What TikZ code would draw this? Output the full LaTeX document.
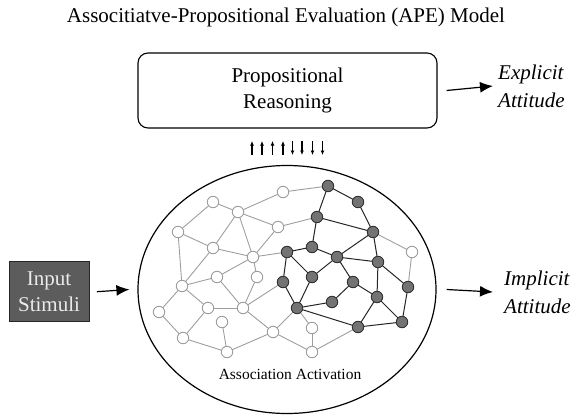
\documentclass[tikz,border=0pt]{standalone}
\usepackage{fontspec}
\setmainfont{Liberation Serif}
\usetikzlibrary{arrows.meta,shapes.geometric}
\begin{document}
\begin{tikzpicture}[x=1pt,y=-1pt,
 wn/.style={circle,draw=black!38,fill=white,line width=0.9pt,minimum size=11.5pt,inner sep=0pt},
 gn/.style={circle,draw=black!80,fill=black!55,line width=0.9pt,minimum size=11.5pt,inner sep=0pt},
 we/.style={draw=black!38,line width=0.9pt},
 ge/.style={draw=black!85,line width=1pt},
 bigarrow/.style={-{Latex[length=13pt,width=11pt]},line width=1.2pt},
 smallarrow/.style={-{Latex[length=4.5pt,width=4pt]},line width=1.1pt},
 txt/.style={font=\fontsize{21}{26}\selectfont,align=center,inner sep=0pt},
 itxt/.style={font=\fontsize{21}{28}\selectfont\itshape,align=left,inner sep=0pt,anchor=west}]
\useasboundingbox (0,0) rectangle (573,415);

% title
\node[txt] (title) at (286,17) {Associtiatve-Propositional Evaluation (APE) Model};

% propositional box
\node[txt,draw,rounded corners=10pt,line width=1.1pt,minimum width=299pt,minimum height=75pt] (prop) at (287.5,90.5) {Propositional\\Reasoning};
\node[itxt] (expl) at (498,86) {Explicit\\Attitude};
\draw[bigarrow] ([xshift=9pt]prop.east) -- ([xshift=-5pt]expl.west);

% small arrows
\foreach \x in {252,262,272.5,283}{\draw[smallarrow] (\x,155) -- (\x,141);}
\foreach \x in {292.5,302,312.5,322.5}{\draw[smallarrow] (\x,141) -- (\x,155);}

% ellipse
\node[draw,ellipse,minimum width=298pt,minimum height=248pt,line width=1.2pt,inner sep=0pt] (ell) at (287,289.5) {};
\node[font=\fontsize{15.5}{18}\selectfont,inner sep=0pt] (assoc) at (290,374) {Association Activation};

% input
\node[txt,draw=black!85,fill=black!64,text=white!92!black,line width=0.9pt,minimum width=80pt,minimum height=60pt] (inp) at (49,291.7) {Input\\Stimuli};
\draw[bigarrow] ([xshift=7.5pt]inp.east) -- ([xshift=-8pt]ell.west);

\node[itxt] (impl) at (504,292) {Implicit\\Attitude};
\draw[bigarrow] ([xshift=10pt]ell.east) -- ([xshift=-11pt]impl.west);

% network nodes
\foreach \n/\p in {W1/{283,192},W2/{213,202},W3/{238,212},W4/{178,232},W5/{278,227},W6/{213,248},W7/{253,257},W8/{217,277},W9/{257,277},W10/{182,286},W11/{159,312},W12/{208,308},W13/{243,308},W14/{222,322},W15/{183,338},W16/{273,332},W17/{227,352},W18/{412,252},W19/{312,328},W20/{312,352}}
  {\coordinate (\n) at (\p);}
\foreach \n/\p in {G1/{287,252},G2/{283,282},G3/{297,308},G4/{328,186},G5/{358,202},G6/{317,217},G7/{373,232},G8/{312,247},G9/{337,257},G10/{378,262},G11/{312,277},G12/{353,282},G13/{408,287},G14/{377,297},G15/{332,302},G16/{402,322},G17/{358,327}}
  {\coordinate (\n) at (\p);}

% gray edges
\foreach \a/\b in {W1/W3,W2/W3,W2/W4,W3/W5,W3/W6,W3/W7,W4/W6,W4/W10,W6/W7,W6/W10,W5/W7,W7/W8,W7/W9,W7/G1,W10/W8,W8/W13,W9/W13,W10/W11,W10/W12,W11/W15,W12/W15,W12/W13,W13/G2,W13/W16,W14/W17,W15/W17,W17/W16,W16/G3,W16/W20,W19/W20,W19/G3,W20/G17,W18/G7,W18/G13,W1/G4,W5/G6}
  {\draw[we] (\a) -- (\b);}
% dark edges
\foreach \a/\b in {G1/G2,G1/G8,G1/G11,G2/G3,G3/G11,G3/G15,G3/G17,G4/G5,G4/G6,G5/G7,G6/G7,G6/G8,G7/G9,G7/G10,G8/G9,G9/G11,G9/G10,G9/G12,G10/G14,G10/G13,G12/G14,G12/G15,G14/G17,G14/G16,G13/G16,G16/G17}
  {\draw[ge] (\a) -- (\b);}

\foreach \n in {W1,W2,W3,W4,W5,W6,W7,W8,W9,W10,W11,W12,W13,W14,W15,W16,W17,W18,W19,W20}
  {\node[wn] (n\n) at (\n) {};}
\foreach \n in {G1,G2,G3,G4,G5,G6,G7,G8,G9,G10,G11,G12,G13,G14,G15,G16,G17}
  {\node[gn] (n\n) at (\n) {};}
\end{tikzpicture}
\end{document}
